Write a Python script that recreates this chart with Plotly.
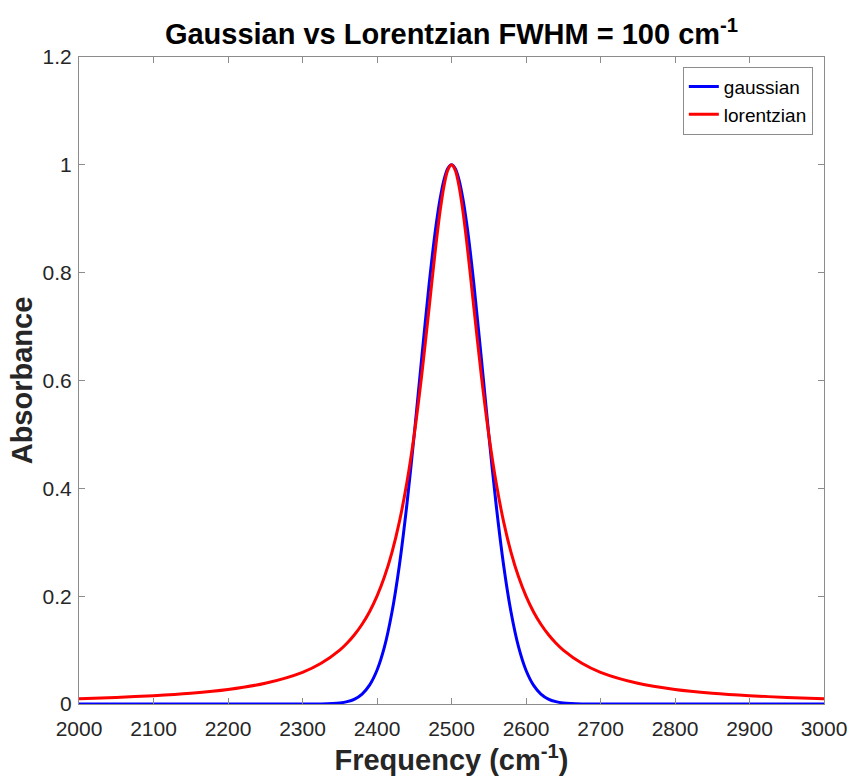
import plotly.graph_objects as go

frequency = [2000, 2050, 2100, 2150, 2200, 2250, 2300, 2325, 2350, 2360, 2370, 2380, 2390,
             2400, 2410, 2420, 2430, 2440, 2450, 2460, 2470, 2475, 2480, 2485, 2490, 2495, 2500,
             2505, 2510, 2515, 2520, 2525, 2530, 2540, 2550, 2560, 2570, 2580, 2590, 2600, 2610,
             2620, 2630, 2640, 2650, 2675, 2700, 2750, 2800, 2850, 2900, 2950, 3000]

gaussian = [0, 0, 0, 0, 0, 0, 0, 0.0002, 0.002, 0.0044, 0.0092, 0.0185, 0.0349,
            0.0625, 0.1058, 0.1696, 0.2570, 0.3686, 0.5, 0.6417, 0.7792, 0.8409, 0.8950, 0.9395, 0.9727, 0.9931, 1.0,
            0.9931, 0.9727, 0.9395, 0.8950, 0.8409, 0.7792, 0.6417, 0.5, 0.3686, 0.2570, 0.1696, 0.1058, 0.0625, 0.0349,
            0.0185, 0.0092, 0.0044, 0.002, 0.0002, 0, 0, 0, 0, 0, 0, 0]

lorentzian = [0.0099, 0.0122, 0.0154, 0.02, 0.0270, 0.0385, 0.0588, 0.0755, 0.1, 0.1131, 0.1289, 0.1479, 0.1712,
              0.2, 0.2358, 0.2809, 0.3378, 0.4098, 0.5, 0.6098, 0.7353, 0.8, 0.8621, 0.9174, 0.9615, 0.9901, 1.0,
              0.9901, 0.9615, 0.9174, 0.8621, 0.8, 0.7353, 0.6098, 0.5, 0.4098, 0.3378, 0.2809, 0.2358, 0.2, 0.1712,
              0.1479, 0.1289, 0.1131, 0.1, 0.0755, 0.0588, 0.0385, 0.0270, 0.02, 0.0154, 0.0122, 0.0099]

x_ticks = [2000, 2100, 2200, 2300, 2400, 2500, 2600, 2700, 2800, 2900, 3000]
y_ticks = [0, 0.2, 0.4, 0.6, 0.8, 1.0, 1.2]
y_tick_labels = ["0", "0.2", "0.4", "0.6", "0.8", "1", "1.2"]

FONT = "Liberation Sans, Arial, Helvetica"

fig = go.Figure()
fig.add_trace(go.Scatter(x=frequency, y=gaussian, mode="lines", name="gaussian",
                         line=dict(color="#0000ff", width=3, shape="spline", smoothing=0.8)))
fig.add_trace(go.Scatter(x=frequency, y=lorentzian, mode="lines", name="lorentzian",
                         line=dict(color="#ff0000", width=3, shape="spline", smoothing=0.8)))

axis_common = dict(showgrid=False, zeroline=False, showline=True, mirror="ticks",
                   linecolor="#8c8c8c", linewidth=1, ticks="inside", ticklen=6,
                   tickcolor="#8c8c8c", automargin=False,
                   tickfont=dict(family=FONT, size=21, color="#262626"))

fig.update_layout(
    width=848, height=783,
    margin=dict(l=79, r=24, t=57, b=79),
    paper_bgcolor="white", plot_bgcolor="white",
    title=dict(text="<b>Gaussian vs Lorentzian FWHM = 100 cm<sup>-1</sup></b>",
               x=(79 + 824) / 2 / 848, xanchor="center", y=1 - 34 / 783, yanchor="middle",
               font=dict(family=FONT, size=29, color="black")),
    xaxis=dict(range=[2000, 3000], tickvals=x_ticks, ticklabelstandoff=6,
               title=dict(text="<b>Frequency (cm<sup>-1</sup>)</b>", standoff=6,
                          font=dict(family=FONT, size=29, color="#262626")),
               **axis_common),
    yaxis=dict(range=[0, 1.2], tickvals=y_ticks, ticktext=y_tick_labels, ticklabelstandoff=2,
               title=dict(text="<b>Absorbance</b>", standoff=1,
                          font=dict(family=FONT, size=29, color="#262626")),
               **axis_common),
    legend=dict(x=0.985, y=0.985, xanchor="right", yanchor="top",
                bordercolor="#8c8c8c", borderwidth=1, bgcolor="white",
                font=dict(family=FONT, size=19, color="black"),
                tracegroupgap=0, itemwidth=30),
    showlegend=True,
)

fig.write_html("out.html")
